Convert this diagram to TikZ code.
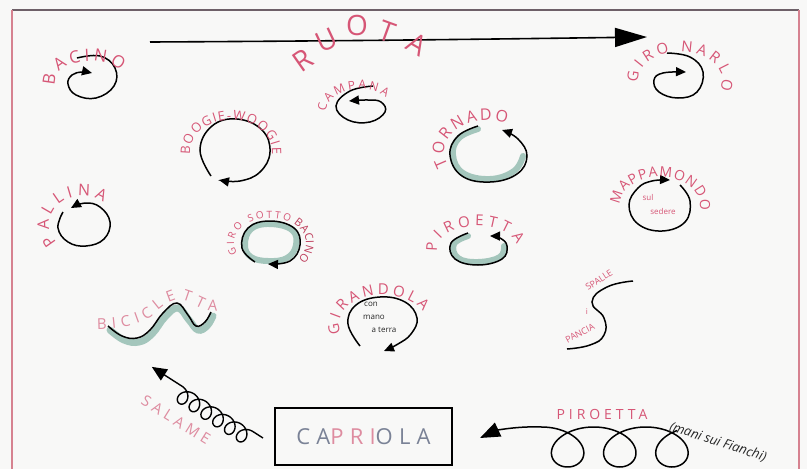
\documentclass[tikz,border=0pt]{standalone}
\usepackage{fontspec}
\newfontfamily\hand{Open Sans}
\newfontfamily\handsp[LetterSpace=28]{Open Sans}
\usepackage{tikz}
\usetikzlibrary{arrows.meta,decorations.text}

\definecolor{pinklab}{RGB}{214,86,118}
\definecolor{softpink}{RGB}{222,140,160}
\definecolor{deepred}{RGB}{190,62,92}
\definecolor{tealband}{RGB}{96,158,140}
\definecolor{framegray}{RGB}{110,96,104}
\definecolor{framepink}{RGB}{214,130,144}
\definecolor{capgray}{RGB}{122,130,150}
\definecolor{paper}{RGB}{248,248,247}

% text written round a loop: cx, cy, rx, ry, start, end, size, text, colour
\newcommand{\arclab}[9]{%
  \path[decorate, decoration={text along path,
      text={|\hand\fontsize{#7}{#7}\selectfont\color{#9}|#8}, text align={fit to path}}]
    ([shift={(#5:#3 and #4)}]#1,#2) arc[start angle=#5, end angle=#6, x radius=#3, y radius=#4];}

\tikzset{
  loopline/.style={line width=1.5pt, -{Triangle[length=10pt,width=9pt]}},
  plainline/.style={line width=1.5pt},
  band/.style={line width=6pt, draw=tealband, opacity=0.55, line cap=round},
  pinktext/.style={font=\hand\fontsize{#1}{#1}\selectfont, text=pinklab, inner sep=0},
  inktext/.style={font=\hand\fontsize{#1}{#1}\selectfont, text=black!85, inner sep=0}
}

\begin{document}
\begin{tikzpicture}[x=1pt, y=-1pt]
	% 0. page and frame
	\useasboundingbox (0,0) rectangle (807,469);
	\fill[paper] (0,0) rectangle (807,469);
	\draw[framegray, line width=1.4pt] (12,10) -- (799,10);
	\draw[framepink, line width=1.4pt] (12,10) -- (12,469);
	\draw[framepink, line width=1.4pt] (799,10) -- (799,469);
	
	% 1. RUOTA arrow across the top
	\coordinate (ruotaStart) at (150,42);
	\coordinate (ruotaEnd) at (647,37);
	\draw[line width=1.6pt, -{Triangle[length=32pt,width=19pt]}]
	(ruotaStart) .. controls (350,41) and (500,39) .. (ruotaEnd);
	\foreach \ch/\px/\py/\ang in {R/303/60/35, U/327/40/25, O/357/25/0, T/387/32/-20, A/417/44/-30}
	\node[pinktext=28, rotate=\ang] (ruota\ch) at (\px,\py) {\ch};
	
	% 2. BACINO and GIRO NARLO
	\draw[loopline] plot[smooth, tension=0.7] coordinates
	{(77,58) (100,56) (115,68) (114,86) (96,98) (76,95) (68,84) (72,75) (82,72) (92,73)};
	\arclab{90}{82}{35}{21}{170}{330}{17}{BACINO}{pinklab}
	
	\draw[loopline] plot[smooth, tension=0.7] coordinates
	{(667,53) (690,57) (703,72) (697,92) (678,98) (659,92) (654,80) (663,73) (686,72)};
	\arclab{680}{80}{42}{28}{175}{380}{15}{GIRO NARLO}{pinklab}
	
	% 3. CAMPANA, BOOGIE-WOOGIE, TORNADO
	\draw[loopline] plot[smooth, tension=0.7] coordinates
	{(373,86) (350,91) (336,106) (348,120) (370,122) (385,112) (381,102) (368,100) (349,101)};
	\arclab{360}{112}{34}{23}{180}{320}{12}{CAMPANA}{pinklab}
	
	\draw[loopline] plot[smooth, tension=0.7] coordinates
	{(211,176) (200,150) (212,126) (237,119) (262,130) (270,152) (260,172) (240,181) (219,180)};
	\arclab{231}{152}{41}{32}{175}{365}{13}{BOOGIE-WOOGIE}{pinklab}
	
	\draw[band] plot[smooth, tension=0.7] coordinates
	{(478,129) (459,138) (453,155) (463,173) (490,179) (514,171) (523,156)};
	\draw[loopline] plot[smooth, tension=0.7] coordinates
	{(478,126) (458,136) (450,155) (462,176) (490,182) (517,174) (527,156) (518,139) (502,130)};
	\arclab{488}{152}{44}{32}{155}{295}{16}{TORNADO}{pinklab}
	
	% 4. PALLINA, GIRO SOTTO BACINO, PIROETTA, MAPPAMONDO
	\draw[loopline] plot[smooth, tension=0.7] coordinates
	{(63,212) (58,228) (68,242) (86,246) (104,239) (110,222) (100,207) (85,203) (71,208)};
	\arclab{82}{224}{33}{28}{140}{310}{16}{PALLINA}{pinklab}
	
	\draw[band] plot[smooth cycle, tension=0.7] coordinates
	{(245,245) (251,229) (270,224) (292,230) (296,245) (287,258) (268,261) (251,257)};
	\draw[loopline] plot[smooth, tension=0.7] coordinates
	{(255,262) (242,248) (248,228) (270,221) (294,228) (300,245) (290,261) (268,264)};
	\arclab{270}{243}{36}{25}{155}{303}{10}{GIRO SOTTO}{pinklab}
	\arclab{270}{243}{36}{25}{311}{399}{11}{BACINO}{deepred}
	
	\draw[band] plot[smooth, tension=0.7] coordinates
	{(468,236) (454,244) (458,258) (478,262) (500,257) (504,246)};
	\draw[loopline] plot[smooth, tension=0.7] coordinates
	{(468,233) (451,243) (455,259) (478,265) (502,259) (507,246) (500,238) (490,236)};
	\arclab{477}{248}{40}{22}{170}{350}{15}{PIROETTA}{pinklab}
	
	\draw[loopline] plot[smooth, tension=0.7] coordinates
	{(680,185) (690,201) (685,222) (662,231) (638,224) (629,205) (638,188) (652,181) (670,180)};
	\arclab{660}{205}{40}{28}{180}{370}{14}{MAPPAMONDO}{pinklab}
	\node[pinktext=8] (sul) at (648,197) {sul};
	\node[pinktext=8] (sedere) at (663,211) {sedere};
	
	% 5. BICICLETTA, GIRANDOLA, SPALLE i PANCIA
	\draw[band, line width=7pt] plot[smooth, tension=0.7] coordinates
	{(110,330) (124,340) (139,342) (152,334) (165,317) (178,308) (189,320) (198,330) (207,326) (213,316)};
	\draw[plainline] plot[smooth, tension=0.7] coordinates
	{(108,326) (122,336) (137,338) (150,330) (163,313) (177,303) (188,315) (196,326) (205,322) (211,312)};
	\path[decorate, decoration={text along path,
		text={|\hand\fontsize{15}{15}\selectfont\color{softpink}|BICICLETTA}, text align={fit to path}}]
	(97,329) .. controls (120,329) and (140,325) .. (152,316)
	.. controls (162,307) and (170,300) .. (180,300)
	.. controls (192,301) and (200,312) .. (217,311);
	
	\draw[loopline] plot[smooth, tension=0.7] coordinates
	{(360,346) (348,324) (356,305) (380,297) (405,302) (417,318) (411,334) (398,344) (384,351)};
	\arclab{383}{324}{44}{29}{162}{335}{15}{GIRANDOLA}{pinklab}
	\node[inktext=8] (con) at (371,304) {con};
	\node[inktext=8] (mano) at (374,317) {mano};
	\node[inktext=8] (aterra) at (384,330) {a terra};
	
	\draw[plainline] plot[smooth, tension=0.8] coordinates
	{(633,281) (607,287) (592,302) (604,318) (604,335) (590,345) (567,349)};
	\node[pinktext=9, rotate=33] (spalle) at (599,280) {SPALLE};
	\node[pinktext=8] (i) at (587,312) {i};
	\node[pinktext=9, rotate=28] (pancia) at (580,333) {PANCIA};
	
	% 6. SALAME coil
	\begin{scope}[shift={(263,438)}, rotate=147.4, x=1pt, y=1pt]
		\draw[line width=1.4pt, -{Triangle[length=15pt,width=13pt]}] (0,0) --
		plot[domain=0:37.7, samples=300, smooth] ({12+2.23*\x+8*sin(\x r)},{8-8*cos(\x r)}) -- (132,0);
	\end{scope}
	\node[font=\handsp\fontsize{15}{15}\selectfont, text=softpink, inner sep=0, rotate=-32] (salame) at (176,420) {SALAME};
	
	% 7. CAPRIOLA box
	\node[draw=black, line width=1.4pt, minimum width=177pt, minimum height=57pt, inner sep=0,
	font=\handsp\fontsize{22}{22}\selectfont] (capriola) at (363.5,436.5)
	{\textcolor{capgray}{CA}\textcolor{softpink}{PRI}\textcolor{capgray}{OLA}};
	
	% 8. PIROETTA with loops, arrow into the box
	\draw[line width=1.5pt, -{Triangle[length=20pt,width=15pt]}]
	plot[domain=0.6:18.85, samples=260, smooth] ({698-8.3*\x-28*sin(\x r)},{447-20*cos(\x r)})
	.. controls (515,426) and (495,431) .. (480,438);
	\node[font=\handsp\fontsize{14}{14}\selectfont, text=pinklab, inner sep=0] (piroetta) at (602,414) {PIROETTA};
	\node[inktext=13, rotate=-18] (fianchi) at (718,442) {\itshape (mani sui Fianchi)};
	
\end{tikzpicture}
\end{document}
